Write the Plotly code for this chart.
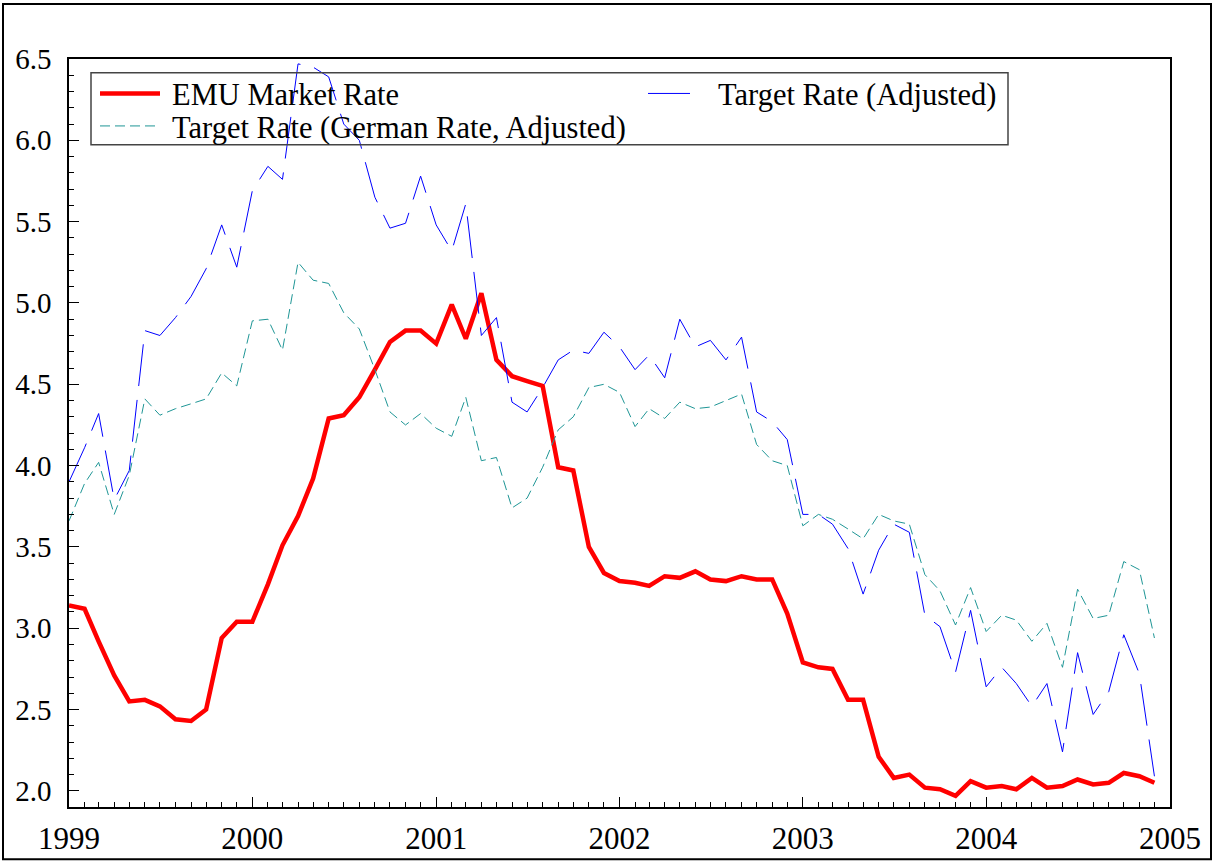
import pandas as pd
import plotly.graph_objects as go

# monthly observations, Jan 1999 - Dec 2004
months = pd.date_range('1999-01-01', periods=72, freq='MS')

emu_market = [3.14, 3.12, 2.92, 2.71, 2.55, 2.56, 2.52, 2.44, 2.43, 2.50, 2.94, 3.04,
              3.04, 3.27, 3.51, 3.69, 3.92, 4.29, 4.31, 4.42, 4.59, 4.76, 4.83, 4.83,
              4.75, 4.99, 4.78, 5.06, 4.65, 4.55, 4.52, 4.49, 3.99, 3.97, 3.50, 3.34,
              3.29, 3.28, 3.26, 3.32, 3.31, 3.35, 3.30, 3.29, 3.32, 3.30, 3.30, 3.09,
              2.79, 2.76, 2.75, 2.56, 2.56, 2.21, 2.08, 2.10, 2.02, 2.01, 1.97, 2.06,
              2.02, 2.03, 2.01, 2.08, 2.02, 2.03, 2.07, 2.04, 2.05, 2.11, 2.09, 2.05]

target_adj = [3.90, 4.11, 4.32, 3.79, 3.97, 4.83, 4.80, 4.91, 5.04, 5.21, 5.48, 5.22,
              5.69, 5.84, 5.76, 6.47, 6.45, 6.39, 6.10, 6.00, 5.65, 5.46, 5.49, 5.78,
              5.48, 5.32, 5.61, 4.80, 4.91, 4.39, 4.33, 4.48, 4.65, 4.71, 4.69, 4.82,
              4.73, 4.59, 4.68, 4.54, 4.90, 4.73, 4.77, 4.65, 4.79, 4.33, 4.27, 4.16,
              3.70, 3.70, 3.64, 3.49, 3.21, 3.48, 3.64, 3.59, 3.08, 3.01, 2.73, 3.11,
              2.64, 2.76, 2.66, 2.52, 2.66, 2.24, 2.85, 2.47, 2.61, 2.96, 2.72, 2.09]

target_german = [3.66, 3.89, 4.02, 3.70, 3.94, 4.41, 4.31, 4.35, 4.38, 4.41, 4.57, 4.49,
                 4.89, 4.90, 4.71, 5.25, 5.14, 5.12, 4.94, 4.84, 4.59, 4.33, 4.25, 4.32,
                 4.23, 4.18, 4.42, 4.03, 4.05, 3.74, 3.80, 3.99, 4.22, 4.30, 4.48, 4.50,
                 4.45, 4.24, 4.35, 4.29, 4.39, 4.35, 4.36, 4.40, 4.44, 4.13, 4.03, 4.00,
                 3.63, 3.70, 3.67, 3.61, 3.55, 3.70, 3.66, 3.64, 3.33, 3.23, 3.02, 3.25,
                 2.98, 3.08, 3.05, 2.92, 3.03, 2.76, 3.24, 3.06, 3.08, 3.41, 3.36, 2.94]

names = ['EMU Market Rate', 'Target Rate (Adjusted)', 'Target Rate (German Rate, Adjusted)']
colors = ['#ff0000', '#0000ff', '#1f9696']
widths = [4.5, 1, 1]
dashes = ['solid', '42px,14px', '10px,5px']

FONT = 'Liberation Serif'
W, H = 1213, 868
L, R, T, B = 69, 43, 59, 49
PW, PH = W - L - R, H - T - B


def px(x):
    return (x - L) / PW


def py(y):
    return (H - B - y) / PH


fig = go.Figure()
for ys, name, c, w, d in zip([emu_market, target_adj, target_german], names, colors, widths, dashes):
    fig.add_trace(go.Scatter(x=months, y=ys, mode='lines', name=name,
                             line=dict(color=c, width=w, dash=d)))

fig.update_layout(
    width=W, height=H,
    margin=dict(l=L, r=R, t=T, b=B),
    paper_bgcolor='white', plot_bgcolor='white',
    font=dict(family=FONT, size=30, color='black'),
    showlegend=False,
)

fig.update_xaxes(
    type='date', range=['1999-01-01', '2005-01-01'],
    dtick='M12', tickformat='%Y', tick0='1999-01-01',
    ticks='inside', ticklen=10, tickcolor='black', tickwidth=1,
    minor=dict(dtick='M1', ticks='inside', ticklen=5, tickcolor='black', tickwidth=1),
    showline=True, linecolor='black', linewidth=1.5, mirror=True,
    showgrid=False, zeroline=False, ticklabelstandoff=3,
    tickfont=dict(family=FONT, size=31),
)
fig.update_yaxes(
    range=[1.901, 6.5], dtick=0.5, tick0=2.0, tickformat='.1f',
    ticks='inside', ticklen=10, tickcolor='black', tickwidth=1,
    minor=dict(dtick=0.1, ticks='inside', ticklen=5, tickcolor='black', tickwidth=1),
    showline=True, linecolor='black', linewidth=1.5, mirror=True,
    showgrid=False, zeroline=False, ticklabelstandoff=10,
    tickfont=dict(family=FONT, size=29),
)

# legend box drawn by hand (two columns, tight rows)
fig.add_shape(type='rect', xref='paper', yref='paper',
              x0=px(91), x1=px(1008), y0=py(146), y1=py(73),
              line=dict(color='#444', width=1.5))
legend_pos = [(100, 160, 94), (648, 694, 94), (100, 156, 127)]
for (x0, x1, yy), name, c, w, d in zip(legend_pos, names, colors, widths, dashes):
    fig.add_shape(type='line', xref='paper', yref='paper',
                  x0=px(x0), x1=px(x1), y0=py(yy), y1=py(yy),
                  line=dict(color=c, width=w, dash=d))
    fig.add_annotation(text=name, xref='paper', yref='paper',
                       x=px(x1 + 22 if x0 > 300 else 170), y=py(yy + 2),
                       xanchor='left', yanchor='middle', showarrow=False,
                       font=dict(family=FONT, size=30.5, color='black'))

# outer frame around the whole picture
fig.add_shape(type='rect', xref='paper', yref='paper',
              x0=px(3), x1=px(1211), y0=py(872), y1=py(3),
              line=dict(color='black', width=2), layer='below')

fig.write_html('out.html', config={'displayModeBar': False},
               post_script="document.body.style.margin='0';")
